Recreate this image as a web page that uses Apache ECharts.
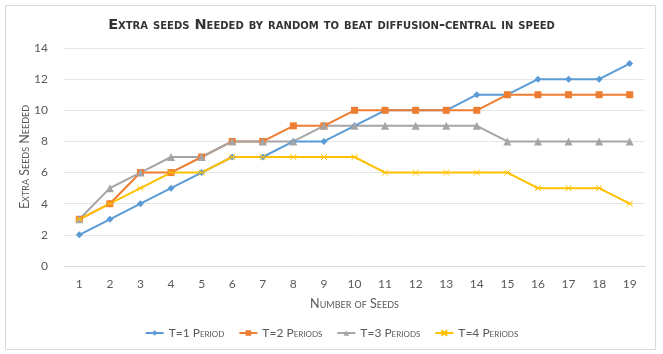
<!DOCTYPE html>
<html>
<head>
<meta charset="utf-8">
<script src="https://cdn.jsdelivr.net/npm/echarts@6/dist/echarts.min.js"></script>
<style>
  html, body { margin: 0; padding: 0; background: #fff; }
  #chart { width: 663px; height: 354px; }
</style>
</head>
<body>
<div id="chart"></div>
<script>
const seeds = ['1', '2', '3', '4', '5', '6', '7', '8', '9', '10', '11', '12', '13', '14', '15', '16', '17', '18', '19']
const t1 = [2, 3, 4, 5, 6, 7, 7, 8, 8, 9, 10, 10, 10, 11, 11, 12, 12, 12, 13]
const t2 = [3, 4, 6, 6, 7, 8, 8, 9, 9, 10, 10, 10, 10, 10, 11, 11, 11, 11, 11]
const t3 = [3, 5, 6, 7, 7, 8, 8, 8, 9, 9, 9, 9, 9, 9, 8, 8, 8, 8, 8]
const t4 = [3, 4, 5, 6, 6, 7, 7, 7, 7, 7, 6, 6, 6, 6, 6, 5, 5, 5, 4]
const seriesNames = ['T=1 Period', 'T=2 Periods', 'T=3 Periods', 'T=4 Periods']

const font = 'Lato, "Open Sans", sans-serif'
const xMark = 'path://M0,0 L10,10 M10,0 L0,10 M0,5 L10,5'

const chart = echarts.init(document.getElementById('chart'))

const mkSeries = (name, data, color, symbol, size) => ({
  name: name,
  type: 'line',
  data: data,
  symbol: symbol,
  symbolSize: size,
  lineStyle: { color: color, width: 2 },
  itemStyle: { color: color, borderColor: color, borderWidth: symbol === xMark ? 1 : 0 },
  emphasis: { disabled: true }
})

chart.setOption({
  animation: false,
  graphic: [{
    type: 'rect',
    shape: { x: 5.5, y: 5.5, width: 650, height: 344 },
    style: { fill: 'none', stroke: '#d9d9d9', lineWidth: 1 },
    silent: true
  }],
  title: {
    text: 'Extra seeds Needed by random to beat diffusion-central in speed',
    left: 'center',
    top: 13,
    textStyle: {
      fontFamily: '"DejaVu Sans", sans-serif',
      fontStyle: 'small-caps',
      fontWeight: 'bold',
      fontSize: 14.5,
      color: '#333333'
    }
  },
  grid: { left: 64, right: 18, top: 48, bottom: 88 },
  xAxis: {
    type: 'category',
    data: seeds,
    name: 'Number of Seeds',
    nameLocation: 'middle',
    nameGap: 31,
    nameTextStyle: { fontFamily: font, fontStyle: 'small-caps', fontSize: 12.5, color: '#595959' },
    axisLine: { lineStyle: { color: '#d9d9d9' } },
    axisTick: { show: false },
    axisLabel: { fontFamily: font, fontSize: 12, color: '#595959', margin: 12 }
  },
  yAxis: {
    type: 'value',
    min: 0,
    max: 14,
    interval: 2,
    name: 'Extra Seeds Needed',
    nameLocation: 'middle',
    nameGap: 33,
    nameMoveOverlap: false,
    nameTextStyle: { fontFamily: font, fontStyle: 'small-caps', fontSize: 12.5, color: '#595959' },
    axisLine: { show: false },
    axisTick: { show: false },
    axisLabel: { fontFamily: font, fontSize: 12, color: '#595959', margin: 16 },
    splitLine: { lineStyle: { color: '#e6e6e6' } }
  },
  legend: {
    bottom: 10,
    itemGap: 14,
    itemWidth: 18,
    itemHeight: 7,
    textStyle: { fontFamily: font, fontStyle: 'small-caps', fontSize: 12, color: '#595959' },
    data: seriesNames
  },
  series: [
    mkSeries(seriesNames[0], t1, '#5b9bd5', 'diamond', 7),
    mkSeries(seriesNames[1], t2, '#ed7d31', 'rect', 7),
    mkSeries(seriesNames[2], t3, '#a5a5a5', 'triangle', 8),
    mkSeries(seriesNames[3], t4, '#ffc000', xMark, 6)
  ]
})
</script>
</body>
</html>
